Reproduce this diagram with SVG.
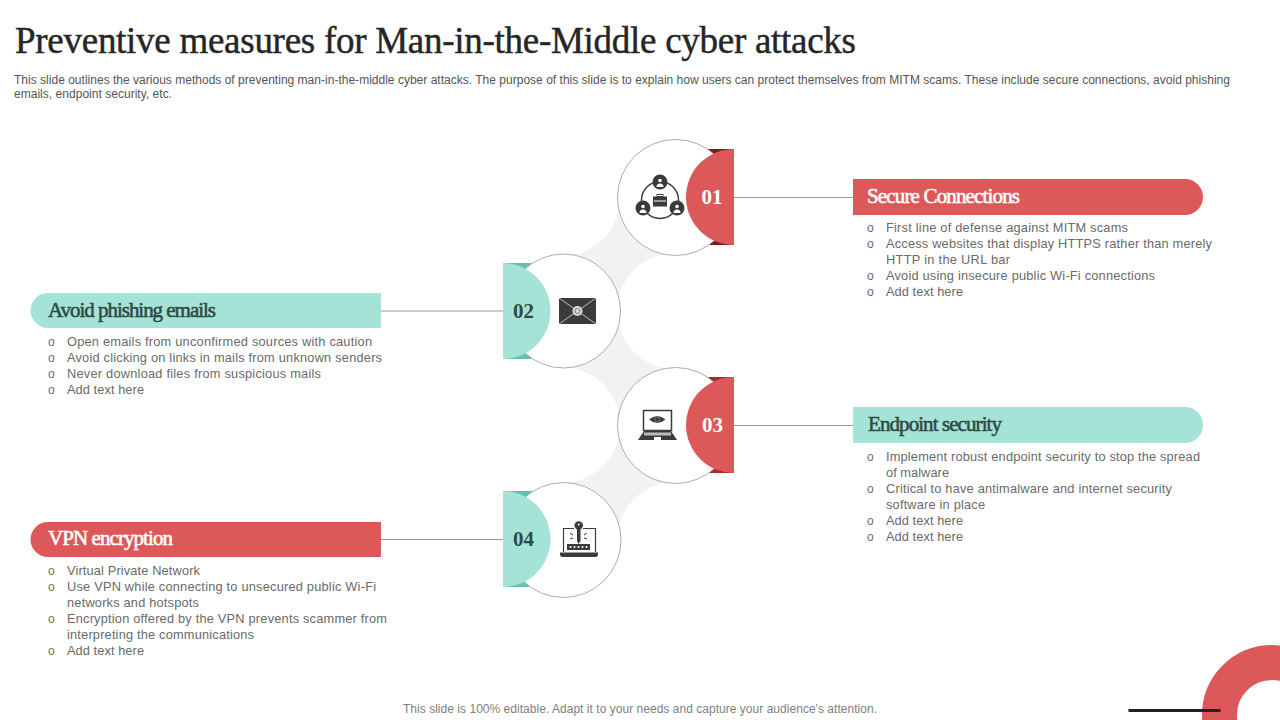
<svg xmlns="http://www.w3.org/2000/svg" width="1280" height="720" viewBox="0 0 1280 720">
<style>
text{font-family:"Liberation Sans",Arial,sans-serif}
.title{font-family:"Liberation Serif","Times New Roman",serif;font-size:37px;fill:#262626;stroke:#262626;stroke-width:.45}
.desc{font-size:12px;fill:#555}
.foot{font-size:12px;fill:#7f7f7f}
.b{font-size:12.800px;fill:#6a6a6a}
.o{font-size:12px;fill:#6a6a6a}
.head{font-family:"Liberation Serif","Times New Roman",serif;font-size:21px;stroke-width:.55}
.num{font-family:"Liberation Serif","Times New Roman",serif;font-weight:700;font-size:21px;text-anchor:middle}
.w{fill:#fff}.dk{fill:#2f4a44}
.head.w{stroke:#fff}.head.dk{stroke:#2f4a44}
.red{fill:#dd5858}.teal{fill:#a6e3d7}
.dred{fill:#7d1c1c}.dred2{fill:#a82a2a}.dteal{fill:#62c2ae}
.ring{fill:#fff;stroke:#adadad;stroke-width:1}
.band{fill:#f2f2f2}
.ic{fill:#3b3b3b}
.icl{fill:none;stroke:#3b3b3b}
.conn{stroke:#9a9a9a;stroke-width:1;fill:none}
</style>

<text class="title" x="15" y="53" textLength="841" lengthAdjust="spacing">Preventive measures for Man-in-the-Middle cyber attacks</text>
<text class="desc" x="14" y="84" textLength="1216" lengthAdjust="spacing">This slide outlines the various methods of preventing man-in-the-middle cyber attacks. The purpose of this slide is to explain how users can protect themselves from MITM scams. These include secure connections, avoid phishing</text>
<text class="desc" x="14" y="98" textLength="158" lengthAdjust="spacing">emails, endpoint security, etc.</text>

<g id="bands">
<path class="band" d="M620,198A58,58 0 0 1 562,256L562,311L617,311A58,58 0 0 1 675,253L675,198Z"/>
<path class="band" d="M675,369A58,58 0 0 1 617,311L562,311L562,367A58,58 0 0 1 620,425L675,425Z"/>
<path class="band" d="M620,425A58,58 0 0 1 562,483L562,540L617,540A58,58 0 0 1 675,482L675,425Z"/>
</g>

<g id="connectors">
<line class="conn" x1="734" y1="197.5" x2="853" y2="197.5"/>
<line class="conn" x1="381" y1="311" x2="503" y2="311"/>
<line class="conn" x1="734" y1="425.5" x2="853" y2="425.5"/>
<line class="conn" x1="381" y1="539.5" x2="503" y2="539.5"/>
</g>

<g id="node-01">
<rect class="dred" x="700" y="149" width="34" height="96"/>
<circle class="ring" cx="675.5" cy="197.5" r="58"/>
<path class="red" d="M734,149A48,48 0 0 0 734,245Z"/>
<text class="num w" x="712" y="204">01</text>
<g id="icon-01">
<circle class="icl" cx="660" cy="200" r="18.500" stroke-width="1.500"/>
<circle class="ic" cx="660" cy="182" r="7.500"/><circle class="ic" cx="643" cy="208" r="7.500"/><circle class="ic" cx="677" cy="208" r="7.500"/>
<circle class="w" cx="660" cy="180.500" r="1.800"/><path class="w" d="M656.500,187a3.500,3.500 0 0 1 7,0Z"/>
<circle class="w" cx="643" cy="206.500" r="1.800"/><path class="w" d="M639.500,213a3.500,3.500 0 0 1 7,0Z"/>
<circle class="w" cx="677" cy="206.500" r="1.800"/><path class="w" d="M673.500,213a3.500,3.500 0 0 1 7,0Z"/>
<rect class="ic" x="653" y="196.500" width="14" height="10"/>
<rect x="657" y="194.500" width="6" height="2" fill="none" stroke="#3b3b3b"/>
<rect class="w" x="654" y="200.500" width="12" height="1"/>
</g>
</g>

<g id="label-01">
<path class="red" d="M853,179H1185A18,18 0 0 1 1185,215H853Z"/>
<text class="head w" x="867" y="203" textLength="153" lengthAdjust="spacing">Secure Connections</text>
<text class="o" x="867" y="232">o</text><text class="b" x="886" y="232" textLength="242" lengthAdjust="spacing">First line of defense against MITM scams</text>
<text class="o" x="867" y="248">o</text><text class="b" x="886" y="248" textLength="326" lengthAdjust="spacing">Access websites that display HTTPS rather than merely</text>
<text class="b" x="886" y="264" textLength="124" lengthAdjust="spacing">HTTP in the URL bar</text>
<text class="o" x="867" y="280">o</text><text class="b" x="886" y="280" textLength="269" lengthAdjust="spacing">Avoid using insecure public Wi-Fi connections</text>
<text class="o" x="867" y="296">o</text><text class="b" x="886" y="296" textLength="77" lengthAdjust="spacing">Add text here</text>
</g>

<g id="node-02">
<rect class="dteal" x="503" y="263" width="34" height="96"/>
<circle class="ring" cx="563.500" cy="311" r="57"/>
<path class="teal" d="M503,263A47.500,48 0 0 1 503,359Z"/>
<text class="num dk" x="523.500" y="318">02</text>
<g id="icon-02">
<rect class="ic" x="559" y="298" width="37" height="26"/>
<path d="M559,298L596,324M596,298L559,324" stroke="#bdbdbd" stroke-width="1" fill="none"/>
<circle cx="577.500" cy="311" r="5" fill="#d9d9d9"/>
<circle cx="577.500" cy="311" r="2.500" fill="none" stroke="#777"/>
</g>
</g>

<g id="label-02">
<path class="teal" d="M381,293H48A17.500,17.500 0 0 0 48,328H381Z"/>
<text class="head dk" x="48" y="317" textLength="168" lengthAdjust="spacing">Avoid phishing emails</text>
<text class="o" x="48" y="346">o</text><text class="b" x="67" y="346" textLength="305" lengthAdjust="spacing">Open emails from unconfirmed sources with caution</text>
<text class="o" x="48" y="362">o</text><text class="b" x="67" y="362" textLength="315" lengthAdjust="spacing">Avoid clicking on links in mails from unknown senders</text>
<text class="o" x="48" y="378">o</text><text class="b" x="67" y="378" textLength="254" lengthAdjust="spacing">Never download files from suspicious mails</text>
<text class="o" x="48" y="394">o</text><text class="b" x="67" y="394" textLength="77" lengthAdjust="spacing">Add text here</text>
</g>

<g id="node-03">
<rect class="dred2" x="700" y="377" width="34" height="96"/>
<circle class="ring" cx="675.500" cy="425.500" r="58"/>
<path class="red" d="M734,377A48,48 0 0 0 734,473Z"/>
<text class="num w" x="712.500" y="432">03</text>
<g id="icon-03">
<rect x="643.500" y="410.500" width="28" height="20" fill="#fff" stroke="#3b3b3b" stroke-width="1.500"/>
<path class="ic" d="M649,419.500Q657.300,412.500 665.500,419.500Q657.300,426.500 649,419.500Z"/>
<circle cx="657.300" cy="419.500" r="2.500" fill="none" stroke="#888" stroke-width=".8"/>
<path class="ic" d="M644,431H671L677,440H638Z"/>
<rect x="644" y="432.500" width="27" height="3" fill="#bbb"/>
<rect x="654" y="437" width="7" height="3" fill="#fff"/>
</g>
</g>

<g id="label-03">
<path class="teal" d="M853,407H1185A18,18 0 0 1 1185,443H853Z"/>
<text class="head dk" x="868" y="431" textLength="134" lengthAdjust="spacing">Endpoint security</text>
<text class="o" x="867" y="461">o</text><text class="b" x="886" y="461" textLength="314" lengthAdjust="spacing">Implement robust endpoint security to stop the spread</text>
<text class="b" x="886" y="477" textLength="63" lengthAdjust="spacing">of malware</text>
<text class="o" x="867" y="493">o</text><text class="b" x="886" y="493" textLength="286" lengthAdjust="spacing">Critical to have antimalware and internet security</text>
<text class="b" x="886" y="509" textLength="99" lengthAdjust="spacing">software in place</text>
<text class="o" x="867" y="525">o</text><text class="b" x="886" y="525" textLength="77" lengthAdjust="spacing">Add text here</text>
<text class="o" x="867" y="541">o</text><text class="b" x="886" y="541" textLength="77" lengthAdjust="spacing">Add text here</text>
</g>

<g id="node-04">
<rect class="dteal" x="503" y="491" width="34" height="96"/>
<circle class="ring" cx="563.500" cy="540" r="57.500"/>
<path class="teal" d="M503,491A47.500,48 0 0 1 503,587Z"/>
<text class="num dk" x="523.500" y="546">04</text>
<g id="icon-04">
<path d="M563.500,552V528.500H574M583,528.500H595.500V552" fill="none" stroke="#3b3b3b" stroke-width="1.200"/>
<path class="ic" d="M560,552.500H598V555.500L596,557H562L560,555.500Z"/>
<circle class="ic" cx="578.700" cy="525.500" r="4.200"/>
<circle class="w" cx="578.700" cy="524.500" r="1"/>
<path class="ic" d="M577,529H580.500V541L578.700,544L577,541Z"/>
<path d="M570,533l3,2M570,539l3,-1M587,533l-3,2M587,539l-3,-1" stroke="#3b3b3b" fill="none"/>
<rect class="ic" x="567" y="544" width="23" height="6"/>
<g class="w"><circle cx="570.500" cy="547" r="1"/><circle cx="574.500" cy="547" r="1"/><circle cx="578.500" cy="547" r="1"/><circle cx="582.500" cy="547" r="1"/><circle cx="586.500" cy="547" r="1"/></g>
</g>
</g>

<g id="label-04">
<path class="red" d="M381,522H48A17.500,17.500 0 0 0 48,557H381Z"/>
<text class="head w" x="48" y="545" textLength="125" lengthAdjust="spacing">VPN encryption</text>
<text class="o" x="48" y="575">o</text><text class="b" x="67" y="575" textLength="133" lengthAdjust="spacing">Virtual Private Network</text>
<text class="o" x="48" y="591">o</text><text class="b" x="67" y="591" textLength="309" lengthAdjust="spacing">Use VPN while connecting to unsecured public Wi-Fi</text>
<text class="b" x="67" y="607" textLength="132" lengthAdjust="spacing">networks and hotspots</text>
<text class="o" x="48" y="623">o</text><text class="b" x="67" y="623" textLength="320" lengthAdjust="spacing">Encryption offered by the VPN prevents scammer from</text>
<text class="b" x="67" y="639" textLength="187" lengthAdjust="spacing">interpreting the communications</text>
<text class="o" x="48" y="655">o</text><text class="b" x="67" y="655" textLength="77" lengthAdjust="spacing">Add text here</text>
</g>

<text class="foot" x="403" y="713" textLength="474" lengthAdjust="spacing">This slide is 100% editable. Adapt it to your needs and capture your audience's attention.</text>

<circle cx="1272" cy="715" r="52.500" fill="none" stroke="#dd5858" stroke-width="35"/>
<rect x="1128.500" y="709" width="92" height="3" fill="#222"/>
</svg>
